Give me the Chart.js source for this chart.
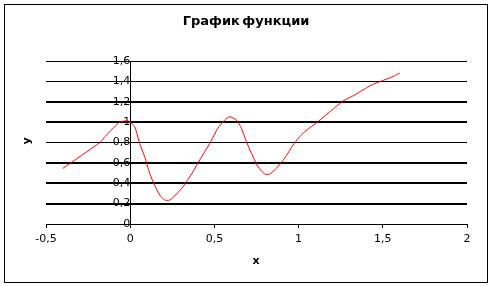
<!DOCTYPE html>
<html>
<head>
<meta charset="utf-8">
<script src="https://cdn.jsdelivr.net/npm/chart.js@4.4.1/dist/chart.umd.min.js"></script>
<style>
  html, body { margin: 0; padding: 0; background: #fff; }
  #frame { position: absolute; left: 4px; top: 4px; width: 482px; height: 277px; border: 1px solid #000; }
  #wrap { position: absolute; left: 0; top: 0; width: 492px; height: 286px; }
</style>
</head>
<body>
<div id="frame"></div>
<div id="wrap"><canvas id="chart" width="492" height="286"></canvas></div>
<script>
// values
const xValues = [-0.4, -0.18, -0.15, -0.07, -0.04, -0.01, 0.027, 0.056, 0.086, 0.116, 0.145, 0.175, 0.205, 0.235,
  0.264, 0.314, 0.373, 0.413, 0.472, 0.521, 0.561, 0.591, 0.631, 0.66, 0.69, 0.72, 0.759, 0.799, 0.828,
  0.868, 0.917, 0.967, 1.0, 1.036, 1.115, 1.175, 1.264, 1.333, 1.432, 1.492, 1.551, 1.6];
const yValues = [0.546, 0.8, 0.857, 0.99, 1.01, 1.01, 0.955, 0.79, 0.66, 0.497, 0.38, 0.285, 0.235, 0.235,
  0.275, 0.366, 0.513, 0.628, 0.79, 0.94, 1.02, 1.053, 1.02, 0.94, 0.81, 0.694, 0.562, 0.49, 0.49,
  0.547, 0.645, 0.775, 0.845, 0.906, 1.004, 1.087, 1.207, 1.266, 1.364, 1.403, 1.44, 1.48];

const xTicks = [-0.5, 0, 0.5, 1, 1.5, 2];
const yTicks = [0, 0.2, 0.4, 0.6, 0.8, 1, 1.2, 1.4, 1.6];
// grid lines that look heavier in the original
const heavyLines = [0.2, 0.4, 0.6, 1, 1.2];

const chartTitle = 'График функции';
const xTitle = 'x';
const yTitle = 'y';

const fmt = v => String(Number(v.toFixed(1))).replace('.', ',');

// title + axis names, drawn as plain text
const labelsPlugin = {
  id: 'labels',
  afterDraw(chart) {
    const ctx = chart.ctx;
    ctx.save();
    ctx.fillStyle = '#000';
    ctx.textAlign = 'center';
    ctx.textBaseline = 'middle';
    ctx.font = 'bold 13px "DejaVu Sans"';
    ctx.wordSpacing = '-2px';
    ctx.fillText(chartTitle, 246, 22);
    ctx.wordSpacing = '0px';
    ctx.font = 'bold 11px "DejaVu Sans"';
    ctx.fillText(xTitle, 256, 261);
    ctx.translate(27, 141);
    ctx.rotate(-Math.PI / 2);
    ctx.fillText(yTitle, 0, 0);
    ctx.restore();
  }
};

new Chart(document.getElementById('chart'), {
  type: 'line',
  data: {
    datasets: [{
      data: xValues.map((x, i) => ({ x: x, y: yValues[i] })),
      borderColor: '#FF0000',
      borderWidth: 1,
      pointRadius: 0,
      tension: 0.2,
      fill: false
    }]
  },
  options: {
    responsive: false,
    animation: false,
    events: [],
    layout: { padding: { left: 46, right: 25, top: 61, bottom: 0 } },
    plugins: {
      legend: { display: false },
      tooltip: { enabled: false }
    },
    scales: {
      x: {
        type: 'linear',
        min: -0.5,
        max: 2,
        afterFit: s => { s.height = 62; },
        afterBuildTicks: s => { s.ticks = xTicks.map(v => ({ value: v })); },
        border: { color: '#000', width: 1 },
        grid: { drawOnChartArea: false, drawTicks: true, tickLength: 4, color: '#000' },
        ticks: {
          color: '#000',
          padding: 5,
          maxRotation: 0,
          font: { family: 'DejaVu Sans', size: 11 },
          callback: v => fmt(v)
        }
      },
      y: {
        type: 'linear',
        position: { x: 0 },
        min: 0,
        max: 1.6,
        afterBuildTicks: s => { s.ticks = yTicks.map(v => ({ value: v })); },
        border: { color: '#000', width: 1 },
        grid: {
          color: '#000',
          tickLength: 4,
          lineWidth: c => heavyLines.some(h => Math.abs(h - c.tick.value) < 1e-6) ? 2 : 1
        },
        ticks: {
          color: '#000',
          padding: 4,
          font: { family: 'DejaVu Sans', size: 11 },
          callback: v => fmt(v)
        }
      }
    }
  },
  plugins: [labelsPlugin]
});
</script>
</body>
</html>
